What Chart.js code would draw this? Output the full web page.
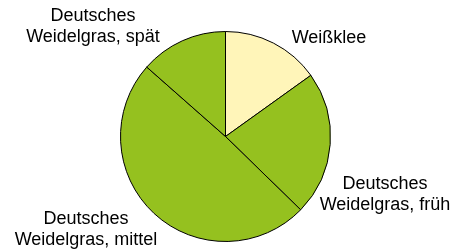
<!DOCTYPE html>
<html>
<head>
<meta charset="utf-8">
<script src="https://cdn.jsdelivr.net/npm/chart.js@4"></script>
<style>
html,body{margin:0;padding:0;background:#fff;}
#wrap{width:462px;height:249px;position:relative;}
</style>
</head>
<body>
<div id="wrap"><canvas id="c" width="462" height="249"></canvas></div>
<script>
const categories = ["Weißklee", "Deutsches Weidelgras, früh", "Deutsches Weidelgras, mittel", "Deutsches Weidelgras, spät"];
const labelLines = [["Weißklee"], ["Deutsches", "Weidelgras, früh"], ["Deutsches", "Weidelgras, mittel"], ["Deutsches", "Weidelgras, spät"]];
const shares = [15.1, 22.2, 49.2, 13.5];
const colors = ["#FFF5B9", "#95C11F", "#95C11F", "#95C11F"];

const labelPlugin = {
  id: 'outLabels',
  afterDraw(chart, args, opts) {
    const ctx = chart.ctx;
    ctx.save();
    ctx.font = opts.font;
    ctx.fillStyle = '#000';
    ctx.textAlign = 'center';
    ctx.textBaseline = 'middle';
    opts.positions.forEach((p, i) => {
      const lines = labelLines[i];
      const lh = opts.lineHeight;
      const y0 = p[1] - (lines.length - 1) * lh / 2;
      lines.forEach((t, j) => ctx.fillText(t, p[0], y0 + j * lh));
    });
    ctx.restore();
  }
};

new Chart(document.getElementById('c'), {
  type: 'pie',
  data: {
    labels: categories,
    datasets: [{
      data: shares,
      backgroundColor: colors,
      borderColor: '#000',
      borderWidth: 1,
      borderAlign: 'center'
    }]
  },
  options: {
    responsive: false,
    animation: false,
    layout: { padding: { top: 31, bottom: 7, left: 0, right: 11 } },
    plugins: {
      legend: { display: false },
      tooltip: { enabled: false },
      outLabels: {
        font: '18px "Liberation Sans", Arial, sans-serif',
        lineHeight: 21,
        positions: [[329, 38.5], [385, 195], [86, 229.5], [93, 26.5]]
      }
    }
  },
  plugins: [labelPlugin]
});
</script>
</body>
</html>
